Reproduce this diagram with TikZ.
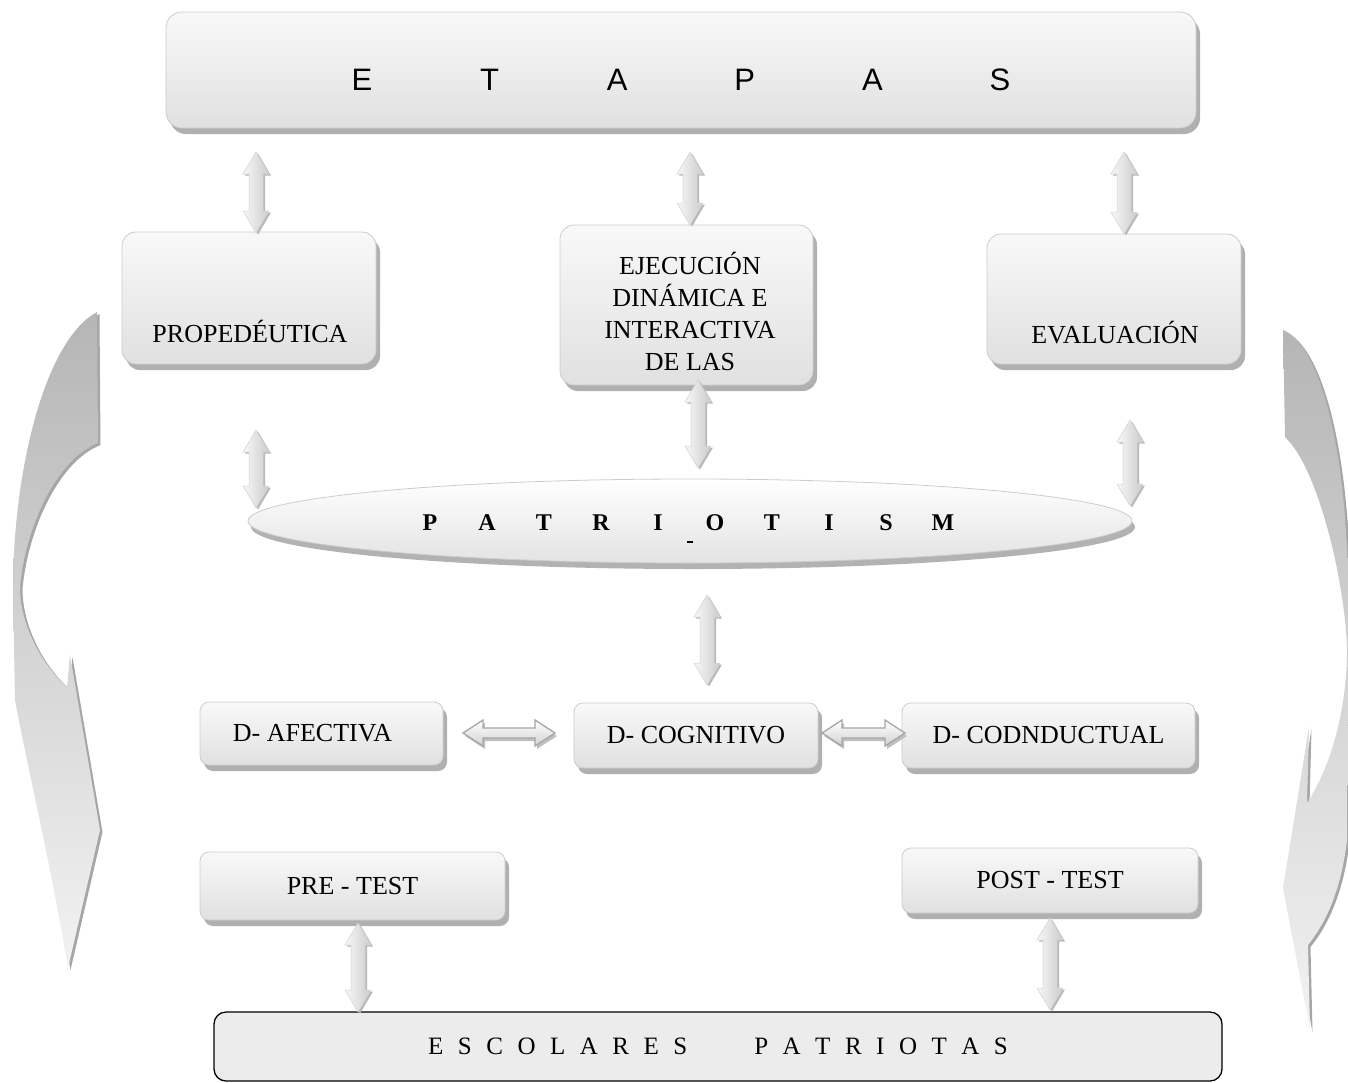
\documentclass[tikz,border=0pt]{standalone}
\usepackage{fontspec}
\setmainfont{Liberation Serif}
\newfontfamily\arialf{Liberation Sans}
\usetikzlibrary{shadows,calc,shapes.geometric}
\newcommand\vdarr[2]{%
  \path[varr] let \p1=(#1), \p2=(#2) in
   (\x1,\y1) -- (\x1+13pt,\y1-22pt) -- (\x1+7pt,\y1-22pt) -- (\x1+7pt,\y2+22pt)
   -- (\x1+13pt,\y2+22pt) -- (\x1,\y2) -- (\x1-13pt,\y2+22pt) -- (\x1-7pt,\y2+22pt)
   -- (\x1-7pt,\y1-22pt) -- (\x1-13pt,\y1-22pt) -- cycle;}
\newcommand\hdarr[2]{%
  \path[harr] let \p1=(#1), \p2=(#2) in
   (\x1,\y1) -- (\x1+20pt,\y1+13pt) -- (\x1+20pt,\y1+5pt) -- (\x2-20pt,\y1+5pt)
   -- (\x2-20pt,\y1+13pt) -- (\x2,\y1) -- (\x2-20pt,\y1-13pt) -- (\x2-20pt,\y1-5pt)
   -- (\x1+20pt,\y1-5pt) -- (\x1+20pt,\y1-13pt) -- cycle;}
\newcommand\lb[2]{\makebox[#1pt]{#2}}
\newcommand\lgap{\hspace{14.5pt}}
\begin{document}
\begin{tikzpicture}[x=1pt,y=-1pt,
  box/.style={draw=gray!40, line width=0.8pt, rounded corners=14pt,
    top color=gray!5, bottom color=gray!24,
    drop shadow={shadow xshift=4pt, shadow yshift=-6pt, fill=gray!62, opacity=1},
    inner sep=0pt, align=center},
  sbox/.style={box, rounded corners=9pt},
  serif/.style={font=\fontsize{26}{32}\selectfont, align=center},
  dtext/.style={font=\fontsize{26}{30}\selectfont},
  varr/.style={left color=gray!6, right color=gray!40, draw=gray!35, line width=0.5pt,
    drop shadow={shadow xshift=2pt, shadow yshift=-1.5pt, fill=gray!55, opacity=1}},
  harr/.style={top color=white, bottom color=gray!35, draw=gray!70, line width=1.3pt,
    drop shadow={shadow xshift=2pt, shadow yshift=-3pt, fill=gray!50, opacity=1}},
  curv/.style={top color=gray!58, bottom color=gray!10,
    drop shadow={shadow xshift=2.5pt, shadow yshift=-2pt, fill=gray!70, opacity=1}}
]
\useasboundingbox (0,0) rectangle (1348,1082);

% curved side arrows
\path[curv] (97,312) .. controls (45,340) and (13,470) .. (13,590) -- (15,700)
  .. controls (30,780) and (50,860) .. (68,968) -- (100,830) -- (70,655) -- (67,687)
  .. controls (42,665) and (20,625) .. (20,587)
  .. controls (25,530) and (55,460) .. (98,443) -- cycle;
\path[curv] (1283,330) .. controls (1320,345) and (1348,450) .. (1348,600) -- (1347,840)
  .. controls (1340,900) and (1320,930) .. (1308,945) -- (1310,1030) -- (1283,888)
  -- (1309,727) -- (1307,803) .. controls (1335,760) and (1347,700) .. (1347,650)
  .. controls (1346,590) and (1320,470) .. (1285,437) -- cycle;

% top banner
\node[box, rounded corners=16pt, minimum width=1030, minimum height=116] (etapas) at (681,70) {};
\node[font=\arialf\fontsize{31}{31}\selectfont] (etapasT) at (681,80)
  {\lb{127.6}{E}\lb{127.6}{T}\lb{127.6}{A}\lb{127.6}{P}\lb{127.6}{A}\lb{127.6}{S}};

% stage boxes
\node[box, minimum width=254, minimum height=132] (prop) at (249,298) {};
\node[serif] (propT) at (250,331) {PROPEDÉUTICA};
\node[box, minimum width=253, minimum height=160] (ejec) at (686.5,305) {};
\node[serif] (ejecT) at (690,311) {EJECUCIÓN\\DINÁMICA E\\INTERACTIVA\\DE LAS};
\node[box, minimum width=254, minimum height=130] (eval) at (1114,299) {};
\node[serif] (evalT) at (1115,333) {EVALUACIÓN};

% ellipse
\node[ellipse, draw=gray!40, line width=0.8pt, top color=white, bottom color=gray!22,
  minimum width=884, minimum height=84, inner sep=0pt,
  drop shadow={shadow xshift=3pt, shadow yshift=-6pt, fill=gray!60, opacity=1}] (pat) at (690,521) {};
\node[font=\bfseries\fontsize{24}{24}\selectfont] (patT) at (686.5,523)
  {\lb{57}{P}\lb{57}{A}\lb{57}{T}\lb{57}{R}\lb{57}{I}\lb{57}{O}\lb{57}{T}\lb{57}{I}\lb{57}{S}\lb{57}{M}};
\draw[line width=1.2pt] (687,542) -- (693,542);

% dimension boxes
\node[sbox, dtext, minimum width=243, minimum height=63] (afec) at (321.5,733.5) {D- AFECTIVA\hspace{18pt}};
\node[sbox, dtext, minimum width=244, minimum height=65] (cogn) at (696,735.5) {D- COGNITIVO};
\node[sbox, dtext, minimum width=293, minimum height=65] (cond) at (1048.5,735.5) {D- CODNDUCTUAL};

% tests
\node[sbox, dtext, minimum width=305, minimum height=68] (pre) at (352.5,886) {PRE - TEST};
\node[sbox, dtext, minimum width=296, minimum height=65] (post) at (1050,880.5) {POST - TEST};

% bottom box
\node[draw=black, line width=1.3pt, fill=gray!15, rounded corners=12pt,
  minimum width=1008, minimum height=69, inner sep=0pt,
  font=\fontsize{25}{25}\selectfont] (esc) at (718,1046.5)
  {E\lgap S\lgap C\lgap O\lgap L\lgap A\lgap R\lgap E\lgap S\hspace{67pt}P\lgap A\lgap T\lgap R\lgap I\lgap O\lgap T\lgap A\lgap S};

% vertical arrows
\coordinate (a1t) at (256,152); \coordinate (a1b) at (256,233);
\coordinate (a2t) at (690,152); \coordinate (a2b) at (690,225);
\coordinate (a3t) at (1124,152); \coordinate (a3b) at (1124,234);
\coordinate (a4t) at (256,430); \coordinate (a4b) at (256,508);
\coordinate (a5t) at (698,380); \coordinate (a5b) at (698,468);
\coordinate (a6t) at (1130,420); \coordinate (a6b) at (1130,506);
\coordinate (a7t) at (707,595); \coordinate (a7b) at (707,685);
\coordinate (a8t) at (358,923); \coordinate (a8b) at (358,1012);
\coordinate (a9t) at (1050,918); \coordinate (a9b) at (1050,1010);
\vdarr{a1t}{a1b} \vdarr{a2t}{a2b} \vdarr{a3t}{a3b}
\vdarr{a4t}{a4b} \vdarr{a5t}{a5b} \vdarr{a6t}{a6b}
\vdarr{a7t}{a7b} \vdarr{a8t}{a8b} \vdarr{a9t}{a9b}

% horizontal arrows
\coordinate (h1l) at (463,733); \coordinate (h1r) at (555,733);
\coordinate (h2l) at (822,733); \coordinate (h2r) at (905,733);
\hdarr{h1l}{h1r} \hdarr{h2l}{h2r}
\end{tikzpicture}
\end{document}
